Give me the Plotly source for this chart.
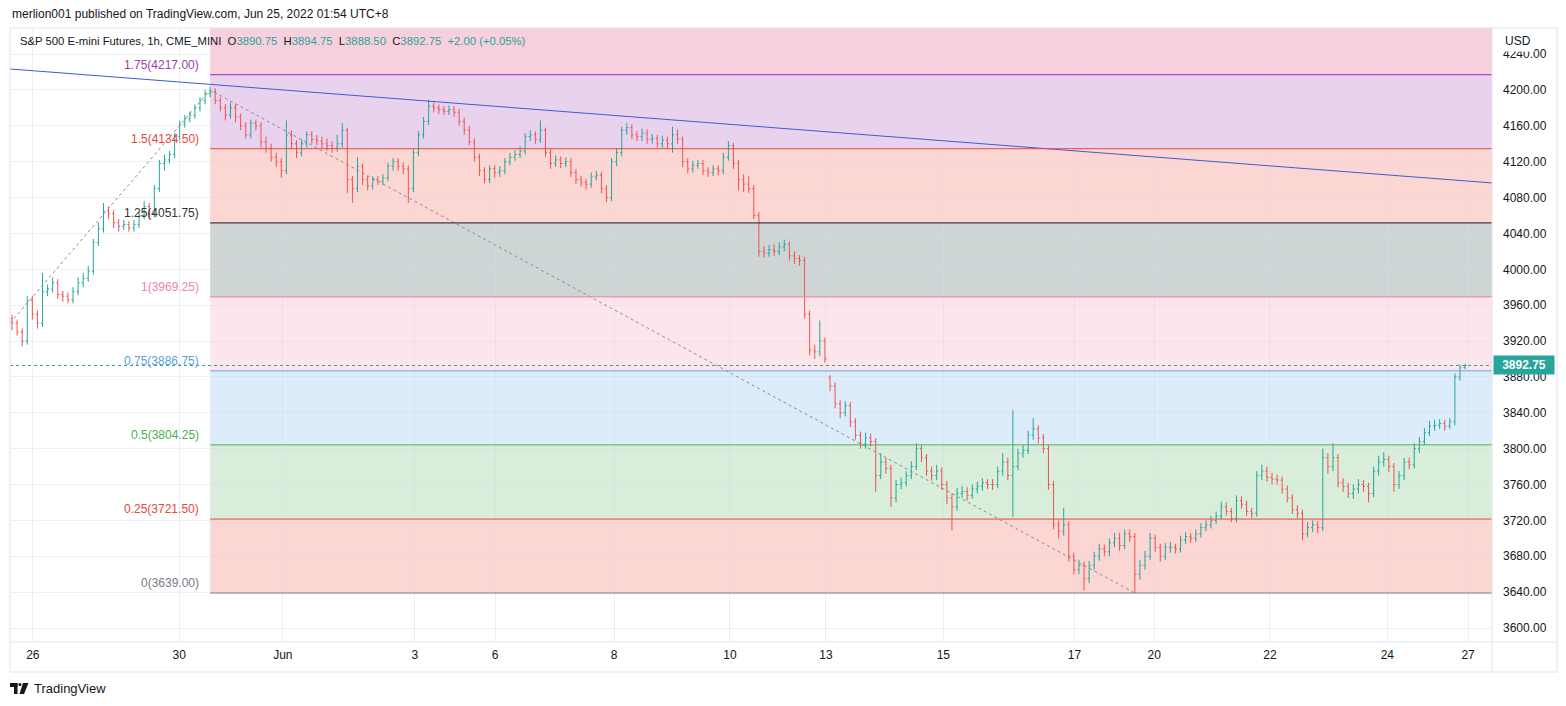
import plotly.graph_objects as go

# ---------------- data (2-hour bars) ----------------
opens = [
    3945, 3940, 3930, 3920, 3965, 3950, 3940, 3975, 3978, 3985,
    3972, 3970, 3966, 3975, 3985, 3990, 3998, 4030, 4045, 4065,
    4062, 4052, 4048, 4050, 4046, 4050, 4060, 4070, 4062, 4090,
    4118, 4122, 4128, 4148, 4162, 4168, 4172, 4180, 4188, 4196,
    4198, 4188, 4180, 4172, 4180, 4170, 4160, 4150, 4163, 4160,
    4142, 4135, 4125, 4120, 4110, 4150, 4140, 4130, 4140, 4150,
    4145, 4143, 4140, 4138, 4135, 4140, 4155, 4100, 4090, 4115,
    4100, 4093, 4100, 4098, 4102, 4115, 4120, 4115, 4112, 4090,
    4130, 4150, 4165, 4182, 4180, 4178, 4176, 4178, 4175, 4165,
    4155, 4142, 4125, 4110, 4100, 4112, 4108, 4110, 4120, 4125,
    4128, 4132, 4148, 4150, 4145, 4155, 4130, 4118, 4122, 4118,
    4120, 4108, 4100, 4097, 4095, 4103, 4105, 4090, 4080, 4120,
    4130, 4155, 4158, 4150, 4148, 4152, 4145, 4146, 4140, 4144,
    4140, 4150, 4145, 4120, 4112, 4116, 4118, 4110, 4108, 4112,
    4110, 4125, 4138, 4118, 4100, 4095, 4090, 4060, 4020, 4018,
    4022, 4020, 4025, 4028, 4015, 4012, 4010, 3950, 3910, 3908,
    3920, 3879, 3870, 3850, 3840, 3848, 3830, 3815, 3805, 3812,
    3808, 3770, 3785, 3778, 3745, 3760, 3762, 3770, 3780, 3800,
    3790, 3775, 3770, 3775, 3760, 3745, 3735, 3750, 3752, 3748,
    3755, 3758, 3762, 3760, 3760, 3775, 3785, 3770, 3780, 3795,
    3798, 3815, 3822, 3812, 3800, 3760, 3715, 3708, 3715, 3680,
    3665, 3670, 3655, 3670, 3680, 3688, 3685, 3695, 3700, 3692,
    3705, 3702, 3660, 3670, 3680, 3700, 3690, 3680, 3690, 3690,
    3688, 3698, 3702, 3700, 3705, 3712, 3715, 3720, 3725, 3735,
    3730, 3722, 3742, 3738, 3730, 3728, 3770, 3775, 3768, 3766,
    3765, 3755, 3745, 3732, 3728, 3705, 3712, 3715, 3712, 3790,
    3780, 3790, 3762, 3758, 3750, 3755, 3760, 3758, 3750, 3775,
    3785, 3788, 3780, 3760, 3770, 3785, 3782, 3800, 3808, 3818,
    3825, 3826, 3828, 3825, 3830, 3880, 3890.75,
]
highs = [
    3949, 3944, 3934, 3970, 3970, 3954, 3996, 3983, 3991, 3989,
    3976, 3974, 3980, 3991, 3996, 4004, 4034, 4052, 4074, 4070,
    4066, 4056, 4055, 4054, 4055, 4064, 4076, 4074, 4094, 4122,
    4128, 4132, 4152, 4166, 4172, 4176, 4184, 4192, 4200, 4204,
    4202, 4192, 4184, 4186, 4184, 4174, 4164, 4167, 4167, 4164,
    4148, 4140, 4130, 4124, 4166, 4155, 4144, 4145, 4154, 4154,
    4150, 4148, 4146, 4143, 4150, 4163, 4158, 4104, 4125, 4118,
    4104, 4104, 4104, 4106, 4119, 4124, 4124, 4119, 4116, 4134,
    4154, 4170, 4189, 4186, 4184, 4182, 4183, 4182, 4179, 4169,
    4160, 4146, 4129, 4114, 4116, 4116, 4115, 4124, 4130, 4133,
    4137, 4152, 4155, 4154, 4166, 4158, 4134, 4127, 4126, 4125,
    4124, 4112, 4104, 4101, 4108, 4110, 4109, 4094, 4124, 4135,
    4159, 4163, 4162, 4154, 4157, 4156, 4151, 4150, 4149, 4148,
    4159, 4156, 4148, 4124, 4121, 4122, 4122, 4114, 4116, 4116,
    4130, 4143, 4141, 4122, 4106, 4104, 4094, 4064, 4026, 4027,
    4028, 4030, 4033, 4031, 4020, 4016, 4014, 3954, 3916, 3943,
    3924, 3882, 3874, 3854, 3853, 3852, 3834, 3819, 3818, 3817,
    3812, 3795, 3790, 3782, 3765, 3768, 3775, 3786, 3806, 3804,
    3794, 3780, 3782, 3779, 3764, 3750, 3756, 3758, 3757, 3760,
    3763, 3767, 3766, 3766, 3780, 3795, 3790, 3843, 3800, 3804,
    3820, 3834, 3826, 3816, 3804, 3764, 3720, 3734, 3719, 3684,
    3676, 3674, 3675, 3685, 3694, 3693, 3700, 3706, 3706, 3710,
    3710, 3706, 3676, 3686, 3706, 3704, 3694, 3695, 3696, 3694,
    3703, 3707, 3706, 3710, 3717, 3720, 3725, 3730, 3741, 3740,
    3734, 3748, 3747, 3742, 3734, 3775, 3782, 3780, 3773, 3771,
    3769, 3759, 3749, 3737, 3732, 3718, 3720, 3719, 3800, 3795,
    3806, 3794, 3767, 3762, 3760, 3766, 3765, 3762, 3780, 3792,
    3796, 3792, 3784, 3775, 3790, 3790, 3806, 3813, 3823, 3831,
    3832, 3833, 3832, 3834, 3884, 3894, 3894.75,
]
lows = [
    3932, 3926, 3914, 3916, 3944, 3934, 3936, 3970, 3974, 3967,
    3964, 3962, 3962, 3971, 3980, 3986, 3994, 4026, 4041, 4056,
    4046, 4042, 4044, 4042, 4042, 4046, 4056, 4056, 4058, 4086,
    4110, 4118, 4124, 4144, 4158, 4164, 4168, 4176, 4184, 4192,
    4184, 4176, 4166, 4168, 4164, 4155, 4146, 4146, 4155, 4136,
    4130, 4120, 4114, 4102, 4106, 4134, 4124, 4126, 4136, 4140,
    4138, 4135, 4132, 4130, 4131, 4136, 4085, 4074, 4086, 4094,
    4088, 4089, 4094, 4094, 4098, 4110, 4110, 4106, 4074, 4086,
    4126, 4146, 4161, 4175, 4173, 4172, 4172, 4170, 4160, 4150,
    4138, 4120, 4104, 4096, 4096, 4102, 4103, 4106, 4116, 4121,
    4124, 4128, 4143, 4140, 4141, 4125, 4112, 4114, 4113, 4114,
    4103, 4095, 4092, 4089, 4091, 4099, 4085, 4075, 4076, 4115,
    4126, 4150, 4145, 4143, 4143, 4140, 4140, 4136, 4136, 4135,
    4130, 4140, 4114, 4107, 4108, 4112, 4105, 4103, 4104, 4105,
    4106, 4121, 4112, 4088, 4086, 4085, 4056, 4014, 4013, 4014,
    4015, 4016, 4020, 4010, 4006, 4004, 3945, 3904, 3900, 3903,
    3896, 3864, 3845, 3834, 3836, 3824, 3810, 3800, 3800, 3802,
    3752, 3766, 3772, 3735, 3740, 3755, 3758, 3766, 3776, 3785,
    3770, 3764, 3765, 3754, 3738, 3709, 3731, 3745, 3742, 3744,
    3750, 3753, 3755, 3754, 3756, 3770, 3765, 3724, 3776, 3790,
    3794, 3810, 3806, 3795, 3754, 3710, 3700, 3703, 3674, 3660,
    3660, 3642, 3650, 3665, 3675, 3680, 3680, 3690, 3686, 3688,
    3696, 3639, 3654, 3665, 3676, 3685, 3674, 3676, 3684, 3683,
    3684, 3694, 3695, 3696, 3701, 3708, 3711, 3716, 3721, 3725,
    3718, 3718, 3733, 3725, 3723, 3724, 3765, 3763, 3760, 3760,
    3750, 3740, 3727, 3722, 3698, 3701, 3707, 3706, 3708, 3772,
    3775, 3757, 3752, 3745, 3744, 3750, 3752, 3740, 3746, 3770,
    3780, 3774, 3752, 3755, 3765, 3777, 3778, 3795, 3804, 3814,
    3820, 3822, 3820, 3822, 3826, 3876, 3888.5,
]
closes = [
    3940, 3930, 3920, 3965, 3950, 3940, 3975, 3978, 3985, 3972,
    3970, 3966, 3975, 3985, 3990, 3998, 4030, 4045, 4065, 4062,
    4052, 4048, 4050, 4046, 4050, 4060, 4070, 4062, 4090, 4118,
    4122, 4128, 4148, 4162, 4168, 4172, 4180, 4188, 4196, 4198,
    4188, 4180, 4172, 4180, 4170, 4160, 4150, 4163, 4160, 4142,
    4135, 4125, 4120, 4110, 4150, 4140, 4130, 4140, 4150, 4145,
    4143, 4140, 4138, 4135, 4140, 4155, 4100, 4090, 4115, 4100,
    4093, 4100, 4098, 4102, 4115, 4120, 4115, 4112, 4090, 4130,
    4150, 4165, 4182, 4180, 4178, 4176, 4178, 4175, 4165, 4155,
    4142, 4125, 4110, 4100, 4112, 4108, 4110, 4120, 4125, 4128,
    4132, 4148, 4150, 4145, 4155, 4130, 4118, 4122, 4118, 4120,
    4108, 4100, 4097, 4095, 4103, 4105, 4090, 4080, 4120, 4130,
    4155, 4158, 4150, 4148, 4152, 4145, 4146, 4140, 4144, 4140,
    4150, 4145, 4120, 4112, 4116, 4118, 4110, 4108, 4112, 4110,
    4125, 4138, 4118, 4100, 4095, 4090, 4060, 4020, 4018, 4022,
    4020, 4025, 4028, 4015, 4012, 4010, 3950, 3910, 3908, 3920,
    3900, 3870, 3850, 3840, 3848, 3830, 3815, 3805, 3812, 3808,
    3770, 3785, 3778, 3745, 3760, 3762, 3770, 3780, 3800, 3790,
    3775, 3770, 3775, 3760, 3745, 3735, 3750, 3752, 3748, 3755,
    3758, 3762, 3760, 3760, 3775, 3785, 3770, 3780, 3795, 3798,
    3815, 3822, 3812, 3800, 3760, 3715, 3708, 3715, 3680, 3665,
    3670, 3655, 3670, 3680, 3688, 3685, 3695, 3700, 3692, 3705,
    3702, 3660, 3670, 3680, 3700, 3690, 3680, 3690, 3690, 3688,
    3698, 3702, 3700, 3705, 3712, 3715, 3720, 3725, 3735, 3730,
    3722, 3742, 3738, 3730, 3728, 3770, 3775, 3768, 3766, 3765,
    3755, 3745, 3732, 3728, 3705, 3712, 3715, 3712, 3790, 3780,
    3790, 3762, 3758, 3750, 3755, 3760, 3758, 3750, 3775, 3785,
    3788, 3780, 3760, 3770, 3785, 3782, 3800, 3808, 3818, 3825,
    3826, 3828, 3825, 3830, 3880, 3890, 3892.75,
]
bar_index = list(range(len(closes)))

# date ticks (positions on the bar index scale)
tick_bars = [4.1, 32.9, 53.3, 79.3, 95.1, 118.5, 141.3, 160.2, 183.3, 209.1, 224.8, 247.6, 270.7, 286.6]
tick_labels = ["26", "30", "Jun", "3", "6", "8", "10", "13", "15", "17", "20", "22", "24", "27"]

price_ticks = [3600, 3640, 3680, 3720, 3760, 3800, 3840, 3880, 3920, 3960,
               4000, 4040, 4080, 4120, 4160, 4200, 4240]
price_tick_labels = [f"{p:.2f}" for p in price_ticks]

# Fibonacci extension drawing
fib_ratios = ["0", "0.25", "0.5", "0.75", "1", "1.25", "1.5", "1.75"]
fib_prices = [3639.00, 3721.50, 3804.25, 3886.75, 3969.25, 4051.75, 4134.50, 4217.00]
fib_top_price = 4299.50
fib_start_bar = 39
fib_line_colors = ["#787b86", "#f44336", "#4caf50", "#5fa8e0", "#ec7fa5", "#131722", "#e8473f", "#9c27b0"]
fib_label_colors = ["#787b86", "#e8473f", "#4caf50", "#5b9fd6", "#ec86aa", "#333333", "#e8473f", "#9b3dad"]
fib_fill_colors = ["#fbd6d3", "#d8edda", "#dcecfa", "#fde5ec", "#ced6d5", "#fcd6d2", "#e9d2ee", "#f8cfdc"]

# trend line and fib anchor path
trend_bars = [-0.4, 291.3]
trend_prices = [4223.4, 4096.3]
path_bars = [-0.4, 39, 221]
path_prices = [3940, 4200, 3639]

last_price = 3892.75
x_range = [-0.4, 291.3]
y_range = [3584.4, 4269.1]

UP = "#26a69a"
DOWN = "#ef5350"
FONT = "Liberation Sans, Arial, sans-serif"

# The page body has an 8px margin, so the figure is 8px smaller and all
# positions are computed relative to the window.
OFF = 8
FIG_W, FIG_H = 1566 - OFF, 706 - OFF

# ---------------- figure ----------------
fig = go.Figure()

shapes = []
for i, p in enumerate(fib_prices):
    upper = fib_prices[i + 1] if i + 1 < len(fib_prices) else fib_top_price
    shapes.append(dict(type="rect", xref="x", yref="y", x0=fib_start_bar, x1=320,
                       y0=p, y1=upper, fillcolor=fib_fill_colors[i], line=dict(width=0),
                       layer="below"))
for i, p in enumerate(fib_prices):
    shapes.append(dict(type="line", xref="x", yref="y", x0=fib_start_bar, x1=320,
                       y0=p, y1=p, line=dict(color=fib_line_colors[i], width=1),
                       layer="above"))

# last price dotted line
shapes.append(dict(type="line", xref="paper", yref="y", x0=0, x1=1, y0=last_price, y1=last_price,
                   line=dict(color=UP, width=1, dash="dot"), layer="above"))

# pane frame (paper coordinates: plot spans window px 10..1492, 28..642)
W, H0, H1 = 1482.0, 28.0, 642.0
def px(x):
    return (x - 10) / W
def py(y):
    return (H1 - y) / (H1 - H0)

frame_col = "#e0e3eb"
shapes += [
    dict(type="line", xref="paper", yref="paper", x0=px(10), x1=px(1558), y0=py(28), y1=py(28), line=dict(color=frame_col, width=1)),
    dict(type="line", xref="paper", yref="paper", x0=px(10), x1=px(1558), y0=py(642), y1=py(642), line=dict(color=frame_col, width=1)),
    dict(type="line", xref="paper", yref="paper", x0=px(10), x1=px(1558), y0=py(672), y1=py(672), line=dict(color=frame_col, width=1)),
    dict(type="line", xref="paper", yref="paper", x0=px(10), x1=px(10), y0=py(28), y1=py(672), line=dict(color=frame_col, width=1)),
    dict(type="line", xref="paper", yref="paper", x0=px(1492), x1=px(1492), y0=py(28), y1=py(672), line=dict(color=frame_col, width=1)),
    dict(type="line", xref="paper", yref="paper", x0=px(1557), x1=px(1557), y0=py(28), y1=py(672), line=dict(color=frame_col, width=1)),
]

# TradingView logo (small glyph)
logo_col = "#131722"
shapes += [
    dict(type="rect", xref="paper", yref="paper", x0=px(10), x1=px(17.5), y0=py(683), y1=py(687), fillcolor=logo_col, line=dict(width=0)),
    dict(type="rect", xref="paper", yref="paper", x0=px(14), x1=px(17.5), y0=py(683), y1=py(694), fillcolor=logo_col, line=dict(width=0)),
    dict(type="circle", xref="paper", yref="paper", x0=px(18.5), x1=px(21.5), y0=py(683), y1=py(686), fillcolor=logo_col, line=dict(width=0)),
    dict(type="path", xref="paper", yref="paper",
         path=f"M {px(23)},{py(683)} L {px(28.5)},{py(683)} L {px(24)},{py(694)} L {px(19.5)},{py(694)} Z",
         fillcolor=logo_col, line=dict(width=0)),
]

# trend line (blue) and fib anchor path (dotted gray)
fig.add_trace(go.Scatter(x=trend_bars, y=trend_prices, mode="lines",
                         line=dict(color="#3f5bd0", width=1), hoverinfo="skip"))
fig.add_trace(go.Scatter(x=path_bars, y=path_prices, mode="lines",
                         line=dict(color="#8a8d96", width=1, dash="dot"), hoverinfo="skip"))

fig.add_trace(go.Ohlc(x=bar_index, open=opens, high=highs, low=lows, close=closes,
                      increasing=dict(line=dict(color=UP, width=1)),
                      decreasing=dict(line=dict(color=DOWN, width=1)),
                      tickwidth=0.3, hoverinfo="skip"))

annotations = []
for i, p in enumerate(fib_prices):
    annotations.append(dict(xref="x", yref="y", x=fib_start_bar, y=p, xanchor="right", yanchor="bottom",
                            xshift=-9, yshift=1, showarrow=False,
                            text=f"{fib_ratios[i]}({p:.2f})",
                            font=dict(family=FONT, size=12, color=fib_label_colors[i])))

annotations.append(dict(xref="paper", yref="paper", x=px(10), y=py(14), xanchor="left", yanchor="middle",
                        showarrow=False, font=dict(family=FONT, size=12, color="#131722"),
                        text="merlion001 published on TradingView.com, Jun 25, 2022 01:54 UTC+8"))

tv = UP
legend = ("S&amp;P 500 E-mini Futures, 1h, CME_MINI&nbsp;&nbsp;"
          f"O<span style='color:{tv}'>3890.75</span>&nbsp;&nbsp;"
          f"H<span style='color:{tv}'>3894.75</span>&nbsp;&nbsp;"
          f"L<span style='color:{tv}'>3888.50</span>&nbsp;&nbsp;"
          f"C<span style='color:{tv}'>3892.75</span>&nbsp;&nbsp;"
          f"<span style='color:{tv}'>+2.00 (+0.05%)</span>")
annotations.append(dict(xref="paper", yref="paper", x=px(18), y=py(41), xanchor="left", yanchor="middle",
                        showarrow=False, font=dict(family=FONT, size=11.3, color="#131722"), text=legend))

annotations.append(dict(xref="paper", yref="paper", x=px(1501), y=py(41), xanchor="left", yanchor="middle",
                        showarrow=False, font=dict(family=FONT, size=12, color="#131722"), text="USD",
                        bgcolor="white", borderpad=3))

annotations.append(dict(xref="paper", yref="y", x=px(1493), y=last_price, xanchor="left", yanchor="middle",
                        showarrow=False, font=dict(family=FONT, size=12, color="white"),
                        text="<b>3892.75</b>", bgcolor=UP, borderpad=2, width=56))

annotations.append(dict(xref="paper", yref="paper", x=px(32), y=py(688), xanchor="left", yanchor="middle",
                        showarrow=False, font=dict(family=FONT, size=13, color="#131722"), text="TradingView"))

fig.update_layout(
    width=FIG_W, height=FIG_H,
    margin=dict(l=10 - OFF, r=FIG_W - (10 - OFF) - 1482, t=28 - OFF, b=FIG_H - (28 - OFF) - 614),
    paper_bgcolor="white", plot_bgcolor="white",
    showlegend=False,
    font=dict(family=FONT, size=12, color="#131722"),
    shapes=shapes, annotations=annotations,
    hovermode=False,
)
grid_col = "rgba(214,219,230,0.45)"
fig.update_xaxes(range=x_range, tickmode="array", tickvals=tick_bars, ticktext=tick_labels,
                 showgrid=True, gridcolor=grid_col, gridwidth=1, zeroline=False, showline=False,
                 ticks="", ticklabelstandoff=4, tickfont=dict(family=FONT, size=12, color="#131722"),
                 rangeslider=dict(visible=False), fixedrange=True)
fig.update_yaxes(range=y_range, side="right", tickmode="array", tickvals=price_ticks, ticktext=price_tick_labels,
                 showgrid=True, gridcolor=grid_col, gridwidth=1, zeroline=False, showline=False,
                 ticks="", ticklabelstandoff=10, tickfont=dict(family=FONT, size=12, color="#131722"),
                 fixedrange=True)

fig.write_html("out.html")
